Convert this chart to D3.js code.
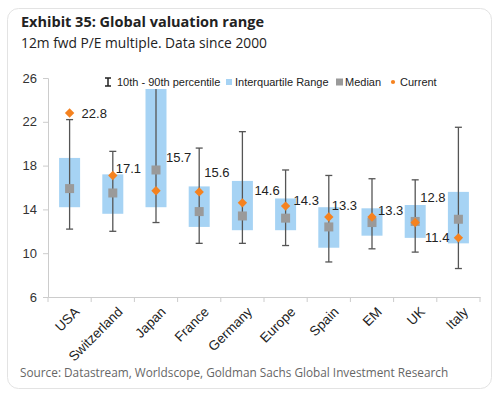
<!DOCTYPE html>
<html>
<head>
<meta charset="utf-8">
<script src="https://cdn.jsdelivr.net/npm/d3@7"></script>
<style>
  body { margin: 0; background: #fff; }
  svg { display: block; }
</style>
</head>
<body>
<svg width="500" height="398"></svg>
<script>
// values (12m fwd P/E)
var countries = ["USA", "Switzerland", "Japan", "France", "Germany", "Europe", "Spain", "EM", "UK", "Italy"];
var p10 = [12.2, 12.0, 12.8, 10.9, 10.9, 10.7, 9.2, 10.4, 10.1, 8.6];
var p90 = [22.2, 19.3, 28.0, 19.6, 21.1, 17.6, 17.1, 16.8, 16.7, 21.5];
var q1 = [14.2, 13.6, 14.2, 12.4, 12.1, 12.1, 10.5, 11.6, 11.4, 10.9];
var q3 = [18.7, 17.2, 27.0, 16.1, 16.6, 15.0, 14.2, 14.1, 14.4, 15.6];
var median = [15.9, 15.5, 17.6, 13.8, 13.4, 13.2, 12.4, 12.8, 12.9, 13.1];
var current = [22.8, 17.1, 15.7, 15.6, 14.6, 14.3, 13.3, 13.3, 12.8, 11.4];
var yTicks = [6, 10, 14, 18, 22, 26];

// label nudges (px) so the value labels sit like the original
var labelDx = [12, 3, 10, 5, 12, 8, 3, 6, 5, -9];
var labelDy = [0, -7, -33, -19, -12, -6, -12, -7, -25, 0];

drawChart();

function drawChart() {
    var data = countries.map(function (c, i) {
        return { name: c, lo: p10[i], hi: p90[i], q1: q1[i], q3: q3[i], med: median[i], cur: current[i], i: i };
    });

    var svg = d3.select("svg");
    var font = "'Liberation Sans', Arial, sans-serif";

    // card
    svg.append("rect")
        .attr("x", 7.5).attr("y", 8.5)
        .attr("width", 484).attr("height", 380)
        .attr("rx", 11)
        .attr("fill", "#fff")
        .attr("stroke", "#e3e3e3");

    svg.append("text")
        .attr("x", 21).attr("y", 27)
        .attr("font-family", "'Open Sans', sans-serif")
        .attr("font-weight", "bold")
        .attr("font-size", "14.5px")
        .attr("fill", "#222")
        .text("Exhibit 35: Global valuation range");

    svg.append("text")
        .attr("x", 21).attr("y", 48)
        .attr("font-family", "'Open Sans', sans-serif")
        .attr("font-size", "13.8px")
        .attr("fill", "#222")
        .text("12m fwd P/E multiple. Data since 2000");

    svg.append("text")
        .attr("x", 20).attr("y", 377)
        .attr("font-family", "'Open Sans', sans-serif")
        .attr("font-size", "11.8px")
        .attr("fill", "#666")
        .text("Source: Datastream, Worldscope, Goldman Sachs Global Investment Research");

    var pLeft = 48, pRight = 480, pTop = 78, pBottom = 297;

    var x = d3.scaleBand().domain(countries).range([pLeft, pRight]).padding(0);
    var y = d3.scaleLinear().domain([6, 26]).range([pBottom, pTop]);

    svg.append("clipPath").attr("id", "plot")
        .append("rect").attr("x", pLeft).attr("y", pTop)
        .attr("width", pRight - pLeft).attr("height", pBottom - pTop);

    // axes
    var yAxis = svg.append("g")
        .attr("transform", "translate(" + pLeft + ",0)")
        .call(d3.axisLeft(y).tickValues(yTicks).tickSize(5).tickPadding(6));
    yAxis.selectAll("text").attr("font-family", font).attr("font-size", "13px").attr("fill", "#333");
    yAxis.selectAll("line").attr("stroke", "#ccc");
    yAxis.select(".domain").attr("stroke", "#ccc");

    var xAxis = svg.append("g")
        .attr("transform", "translate(0," + pBottom + ")")
        .call(d3.axisBottom(x).tickSize(0).tickFormat(""));
    xAxis.select(".domain").attr("stroke", "#ccc");
    xAxis.selectAll(".bnd")
        .data(d3.range(countries.length + 1))
        .enter().append("line")
        .attr("x1", function (d) { return pLeft + d * x.step(); })
        .attr("x2", function (d) { return pLeft + d * x.step(); })
        .attr("y1", 0).attr("y2", 5)
        .attr("stroke", "#ccc");

    svg.selectAll(".xlab")
        .data(countries)
        .enter().append("text")
        .attr("class", "xlab")
        .attr("transform", function (d) {
            return "translate(" + (x(d) + x.bandwidth() / 2 + 4) + "," + (pBottom + 9) + ") rotate(-45)";
        })
        .attr("text-anchor", "end")
        .attr("dy", "0.7em")
        .attr("font-family", font)
        .attr("font-size", "13.5px")
        .attr("fill", "#222")
        .text(function (d) { return d; });

    var g = svg.append("g").attr("clip-path", "url(#plot)");
    var cx = function (d) { return x(d.name) + x.bandwidth() / 2; };
    var bw = 21;

    g.selectAll(".box")
        .data(data)
        .enter().append("rect")
        .attr("x", function (d) { return cx(d) - bw / 2; })
        .attr("y", function (d) { return y(d.q3); })
        .attr("width", bw)
        .attr("height", function (d) { return y(d.q1) - y(d.q3); })
        .attr("fill", "#a6d3f4");

    g.selectAll(".whisk")
        .data(data)
        .enter().append("line")
        .attr("x1", cx).attr("x2", cx)
        .attr("y1", function (d) { return y(d.hi); })
        .attr("y2", function (d) { return y(d.lo); })
        .attr("stroke", "#555").attr("stroke-width", 1.3);

    ["hi", "lo"].forEach(function (k) {
        g.selectAll(".cap-" + k)
            .data(data)
            .enter().append("line")
            .attr("x1", function (d) { return cx(d) - 3.5; })
            .attr("x2", function (d) { return cx(d) + 3.5; })
            .attr("y1", function (d) { return y(d[k]); })
            .attr("y2", function (d) { return y(d[k]); })
            .attr("stroke", "#555").attr("stroke-width", 1.3);
    });

    g.selectAll(".med")
        .data(data)
        .enter().append("rect")
        .attr("x", function (d) { return cx(d) - 4.5; })
        .attr("y", function (d) { return y(d.med) - 4.5; })
        .attr("width", 9).attr("height", 9)
        .attr("fill", "#9a9a9a");

    var diamond = d3.symbol().type(d3.symbolSquare).size(44);
    g.selectAll(".cur")
        .data(data)
        .enter().append("path")
        .attr("d", diamond)
        .attr("transform", function (d) { return "translate(" + cx(d) + "," + y(d.cur) + ") rotate(45)"; })
        .attr("fill", "#f5821f");

    svg.selectAll(".vlab")
        .data(data)
        .enter().append("text")
        .attr("x", function (d) { return cx(d) + labelDx[d.i]; })
        .attr("y", function (d) { return y(d.cur) + labelDy[d.i]; })
        .attr("dy", "0.35em")
        .attr("text-anchor", function (d) { return labelDx[d.i] < 0 ? "end" : "start"; })
        .attr("font-family", font)
        .attr("font-size", "13px")
        .attr("fill", "#222")
        .text(function (d) { return d3.format(".1f")(d.cur); });

    // legend
    var lg = svg.append("g").attr("font-family", font).attr("font-size", "11px").attr("fill", "#222");
    lg.append("rect").attr("x", 100).attr("y", 74).attr("width", 342).attr("height", 15).attr("fill", "#fff");
    var ly = 82;
    lg.append("path")
        .attr("d", "M105," + (ly - 4) + "H111M108," + (ly - 4) + "V" + (ly + 4) + "M105," + (ly + 4) + "H111")
        .attr("stroke", "#222").attr("stroke-width", 1.5).attr("fill", "none");
    lg.append("text").attr("x", 117).attr("y", ly).attr("dy", "0.35em").text("10th - 90th percentile");
    lg.append("rect").attr("x", 226).attr("y", ly - 3).attr("width", 6).attr("height", 6).attr("fill", "#a6d3f4");
    lg.append("text").attr("x", 235).attr("y", ly).attr("dy", "0.35em").text("Interquartile Range");
    lg.append("rect").attr("x", 336).attr("y", ly - 3.5).attr("width", 7).attr("height", 7).attr("fill", "#9a9a9a");
    lg.append("text").attr("x", 345).attr("y", ly).attr("dy", "0.35em").text("Median");
    lg.append("path").attr("d", d3.symbol().type(d3.symbolCircle).size(14))
        .attr("transform", "translate(393," + ly + ")").attr("fill", "#f5821f");
    lg.append("text").attr("x", 400).attr("y", ly).attr("dy", "0.35em").text("Current");
}
</script>
</body>
</html>
